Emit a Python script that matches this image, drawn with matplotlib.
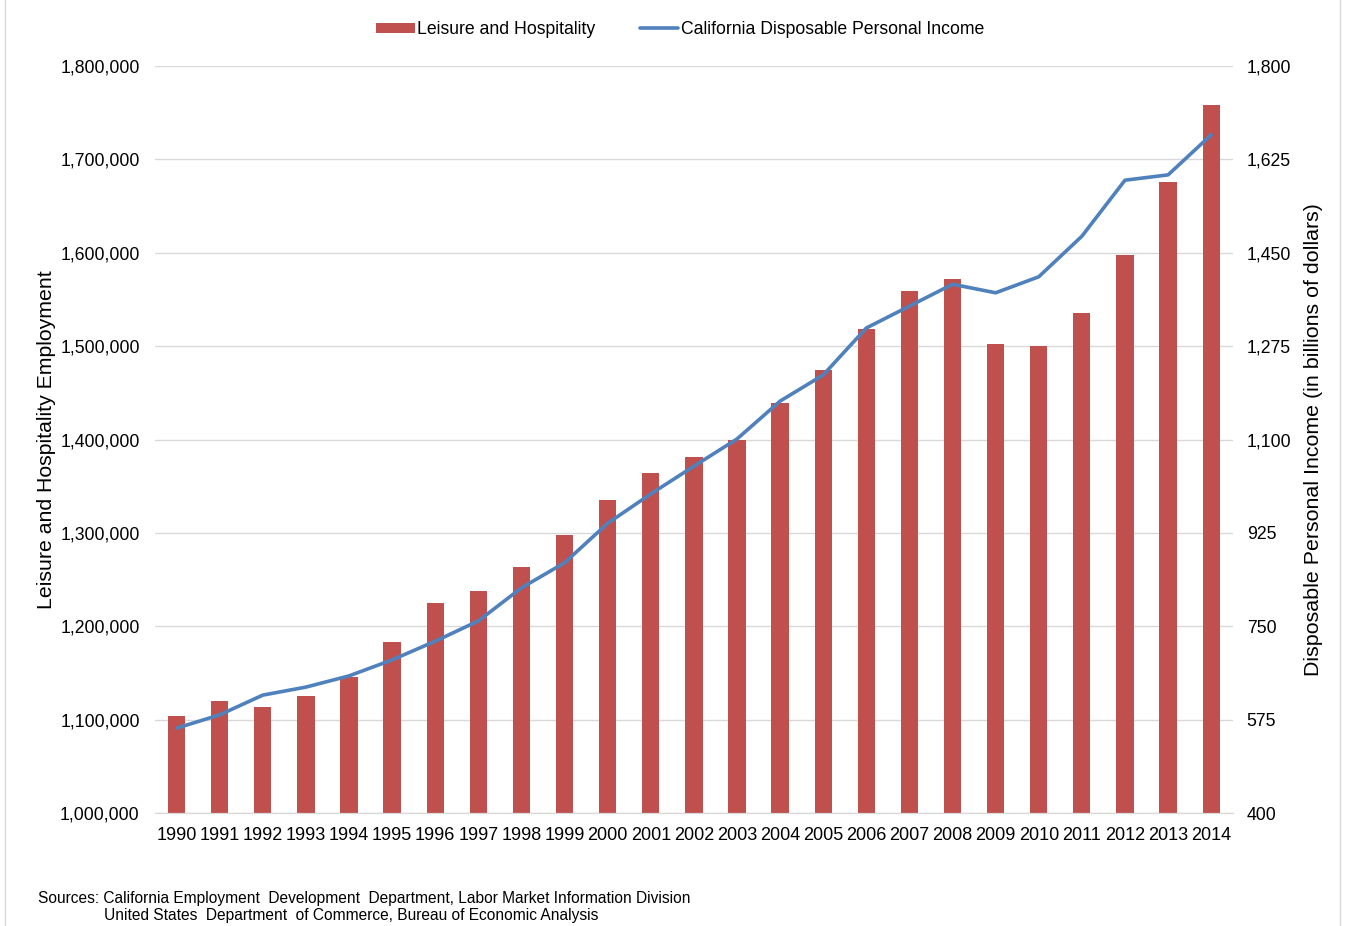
import numpy as np
import matplotlib.pyplot as plt
from matplotlib.patches import Rectangle
from matplotlib.ticker import FuncFormatter

plt.rcParams['font.family'] = ['Liberation Sans', 'DejaVu Sans']

years = [str(y) for y in range(1990, 2015)]

# Leisure and Hospitality employment (persons)
employment = [1104000, 1120000, 1113500, 1125000, 1146000, 1183000, 1225000,
              1238000, 1263000, 1298000, 1335000, 1364000, 1381000, 1400000,
              1439000, 1474000, 1518000, 1559000, 1572000, 1502000, 1500000,
              1535000, 1598000, 1676000, 1758000]

# California disposable personal income (billions of dollars)
income = [559, 584, 621, 636, 657, 687, 722, 760, 822, 869, 943, 998, 1050,
          1101, 1172, 1221, 1309, 1350, 1391, 1375, 1405, 1481, 1586, 1596,
          1671]

left_ticks = [1000000, 1100000, 1200000, 1300000, 1400000, 1500000, 1600000,
              1700000, 1800000]
right_ticks = [400, 575, 750, 925, 1100, 1275, 1450, 1625, 1800]

bar_color = '#c0504d'
line_color = '#4f81bd'
grid_color = '#d9d9d9'

fig = plt.figure(figsize=(13.48, 9.26), dpi=100)
ax = fig.add_axes([0.115, 0.122, 0.7995, 0.8067])
ax2 = ax.twinx()

x = np.arange(len(years))
bars = ax.bar(x, employment, width=0.4, color=bar_color, zorder=2,
              label='Leisure and Hospitality')
line, = ax2.plot(x, income, color=line_color, lw=2.6, zorder=3,
                 solid_capstyle='round', solid_joinstyle='round',
                 label='California Disposable Personal Income')

ax.set_xlim(-0.5, len(years) - 0.5)
ax.set_ylim(1000000, 1800000)
ax2.set_ylim(400, 1800)
ax.set_yticks(left_ticks)
ax2.set_yticks(right_ticks)
ax.yaxis.set_major_formatter(FuncFormatter(lambda v, p: f'{int(v):,}'))
ax2.yaxis.set_major_formatter(FuncFormatter(lambda v, p: f'{int(v):,}'))
ax.set_xticks(x)
ax.set_xticklabels(years)

ax.grid(axis='y', color=grid_color, lw=1, zorder=0)
for a in (ax, ax2):
    for s in ('top', 'left', 'right'):
        a.spines[s].set_visible(False)
    a.spines['bottom'].set_color(grid_color)
    a.tick_params(length=0, labelsize=12.7, colors='black')
ax.tick_params(axis='x', labelsize=13, pad=10)
ax.tick_params(axis='y', pad=11)
ax2.tick_params(axis='y', pad=10)

ax.set_ylabel('Leisure and Hospitality Employment', fontsize=15.3, labelpad=3)
ax2.set_ylabel('Disposable Personal Income (in billions of dollars)',
               fontsize=15.4, labelpad=9)

fig.legend(handles=[bars, line], loc='center', bbox_to_anchor=(0.5045, 0.968),
           ncol=2, frameon=False, fontsize=12.7, handlelength=2.2,
           handleheight=0.5, columnspacing=2.5, handletextpad=0.15)

fig.text(0.028, 0.025, 'Sources: California Employment  Development  Department, '
         'Labor Market Information Division', fontsize=11.2)
fig.text(0.077, 0.006, 'United States  Department  of Commerce, Bureau of '
         'Economic Analysis', fontsize=11.2)

# light chart-area border
fig.patches.append(Rectangle((0.004, -0.01), 0.99, 1.02, transform=fig.transFigure,
                             fill=False, edgecolor='#d9d9d9', lw=1))

fig.savefig('out.png', dpi=100)
